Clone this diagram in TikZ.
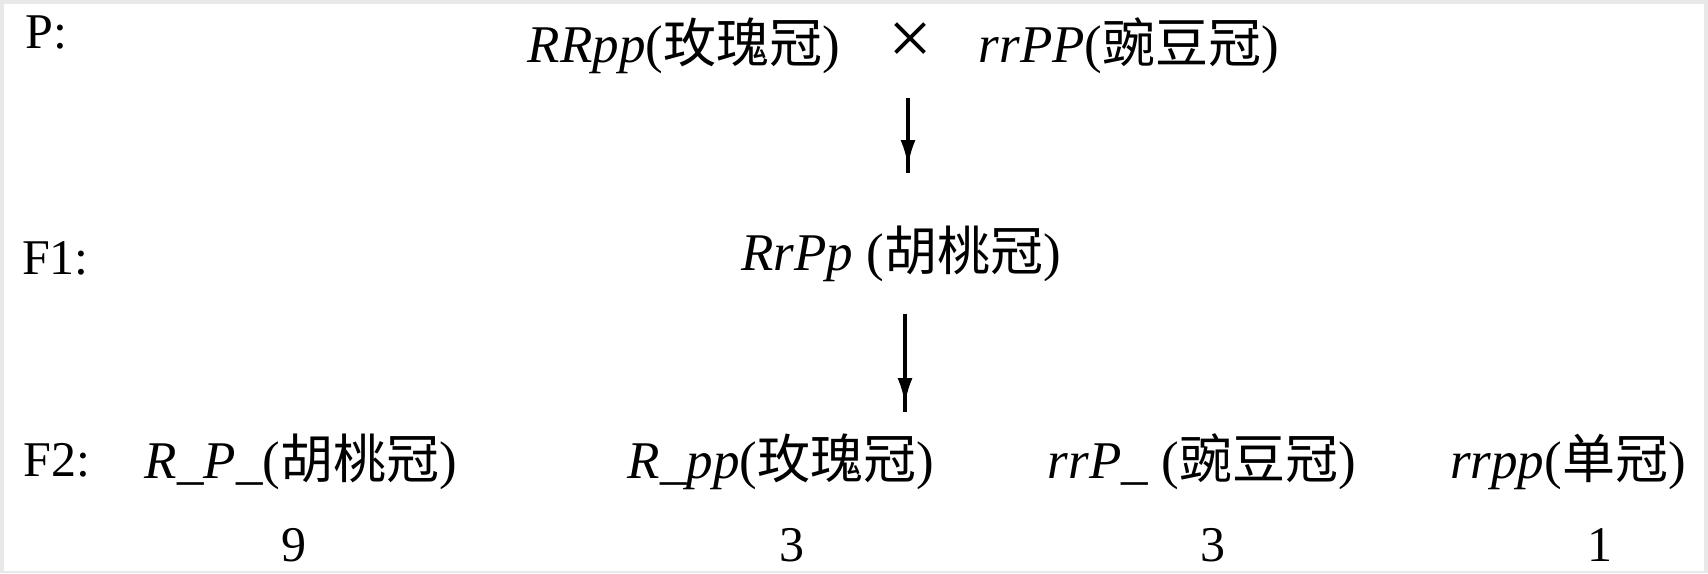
\documentclass[tikz,border=0pt]{standalone}
\usepackage{fontspec}
\setmainfont{Liberation Serif}
\newfontfamily\cjk{Noto Sans CJK SC}
\usetikzlibrary{arrows.meta}

\tikzset{
  lbl/.style={anchor=base west, inner sep=0pt, font=\fontsize{50}{54}\selectfont},
  geno/.style={anchor=base, inner sep=0pt, font=\fontsize{53}{57}\selectfont},
  ratio/.style={anchor=base, inner sep=0pt, font=\fontsize{50}{54}\selectfont},
  stem/.style={line width=3.2pt, draw=black},
  head/.style={line width=3.2pt, draw=black, -{Latex[length=26pt,width=15pt]}}
}
\newcommand{\gt}[2]{\textit{#1}({\cjk #2})}

\begin{document}
\begin{tikzpicture}[x=1pt, y=-1pt]
  % page with a thin grey rim
  \fill[black!9] (0,0) rectangle (1708,573);
  \fill[white] (4,4) rectangle (1704,571);
  \useasboundingbox (0,0) rectangle (1708,573);

  % generation labels
  \node[lbl] (lp)  at (25,48)  {P:};
  \node[lbl] (lf1) at (22,274) {F1:};
  \node[lbl] (lf2) at (23,476) {F2:};

  % parents
  \node[geno] (p1) at (684,62) {\gt{RRpp}{玫瑰冠}};
  \node[geno, font=\fontsize{78}{80}\selectfont] (cross) at (910,64) {×};
  \node[geno] (p2) at (1129,62) {\gt{rrPP}{豌豆冠}};

  % first filial generation
  \node[geno] (f1) at (901,270) {\textit{RrPp} ({\cjk 胡桃冠})};

  % second filial generation
  \node[geno] (g1) at (301,478)  {\gt{R\_P\_}{胡桃冠}};
  \node[geno] (g2) at (781,478)  {\gt{R\_pp}{玫瑰冠}};
  \node[geno] (g3) at (1202,478) {\textit{rrP\_} ({\cjk 豌豆冠})};
  \node[geno] (g4) at (1568,478) {\gt{rrpp}{单冠}};

  % segregation ratio
  \node[ratio] (n1) at (294,561)  {9};
  \node[ratio] (n2) at (792,561)  {3};
  \node[ratio] (n3) at (1213,561) {3};
  \node[ratio] (n4) at (1600,561) {1};

  % arrows between generations
  \coordinate (a1s) at (908,98);
  \coordinate (a1t) at (908,166);
  \coordinate (a1e) at (908,173);
  \coordinate (a2s) at (905,314);
  \coordinate (a2t) at (905,404);
  \coordinate (a2e) at (905,412);
  \draw[stem] (a1s) -- (a1e);
  \draw[head] (a1s) -- (a1t);
  \draw[stem] (a2s) -- (a2e);
  \draw[head] (a2s) -- (a2t);
\end{tikzpicture}
\end{document}
